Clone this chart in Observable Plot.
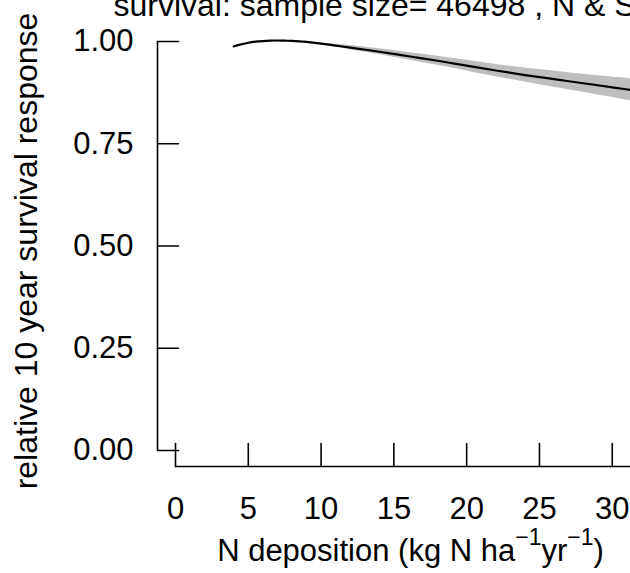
<!DOCTYPE html>
<html><head><meta charset="utf-8">
<script src="https://cdn.jsdelivr.net/npm/d3@7"></script>
<script src="https://cdn.jsdelivr.net/npm/@observablehq/plot@0.6"></script>
<style>
html,body{margin:0;padding:0;background:#fff;overflow:hidden;}
#chart{width:630px;height:573px;overflow:hidden;position:relative;}
</style></head><body><div id="chart"></div>
<script>
const titleText = "survival: sample size= 46498 , N & S";
const yLabel = "relative 10 year survival response";
const xLabelParts = ["N deposition (kg N ha", "\u22121", "yr", "\u22121", ")"];

// fitted response curve
const curveX = [4, 4.5, 5, 5.5, 6, 6.5, 7, 7.5, 8, 9, 10, 11, 12, 14, 16, 18, 20, 22, 24, 26, 28, 30, 32];
const curveY = [0.988, 0.993, 0.997, 0.9995, 1.001, 1.002, 1.0025, 1.002, 1.0015, 0.999, 0.995, 0.990, 0.985, 0.975, 0.964, 0.953, 0.941, 0.929, 0.918, 0.908, 0.898, 0.888, 0.878];

// confidence band
const bandX = [9, 10, 11, 12, 14, 16, 18, 20, 22, 24, 26, 28, 30, 32];
const bandLower = [0.999, 0.994, 0.987, 0.980, 0.968, 0.955, 0.942, 0.928, 0.914, 0.901, 0.888, 0.876, 0.863, 0.850];
const bandUpper = [0.999, 0.996, 0.993, 0.990, 0.982, 0.973, 0.964, 0.954, 0.944, 0.935, 0.928, 0.920, 0.913, 0.906];

const xTicks = [0, 5, 10, 15, 20, 25, 30, 35];
const yTicks = [0, 0.25, 0.5, 0.75, 1];

const curve = curveX.map((x, i) => ({x, y: curveY[i]}));
const band = bandX.map((x, i) => ({x, lo: bandLower[i], hi: bandUpper[i]}));

const tickShape = {draw(c, l) { c.moveTo(0, 0); c.lineTo(0, -l); }};
const font = "'Liberation Sans', Arial, Helvetica, sans-serif";

const chart = Plot.plot({
  width: 630, height: 573,
  marginTop: 41, marginBottom: 123, marginLeft: 175, marginRight: 0,
  x: {domain: [0, 30], range: [175, 611.75]},
  y: {domain: [0, 1]},
  style: {fontFamily: font, overflow: "hidden", background: "white", color: "black"},
  marks: [
    Plot.areaY(band, {x: "x", y1: "lo", y2: "hi", fill: "#bebebe", curve: "catmull-rom"}),
    Plot.line(curve, {x: "x", y: "y", stroke: "black", strokeWidth: 2.2, curve: "catmull-rom"}),
    Plot.ruleX([0], {y1: yTicks[0], y2: yTicks[yTicks.length - 1], dx: -18, stroke: "black", strokeWidth: 1.6}),
    Plot.ruleY([0], {x1: xTicks[0], x2: xTicks[xTicks.length - 1], dy: 16, stroke: "black", strokeWidth: 1.6}),
    Plot.vector(yTicks, {y: d => d, frameAnchor: "left", dx: -18, rotate: 90, length: 21, anchor: "start", shape: tickShape, stroke: "black", strokeWidth: 1.6}),
    Plot.vector(xTicks, {x: d => d, frameAnchor: "bottom", dy: 16, length: 23, anchor: "start", shape: tickShape, stroke: "black", strokeWidth: 1.6}),
    Plot.axisY({ticks: yTicks, tickSize: 0, tickPadding: 42, tickFormat: d3.format(".2f"), fontSize: 31, label: null}),
    Plot.axisX({ticks: xTicks, tickSize: 0, tickPadding: 46, fontSize: 31, label: null}),
    Plot.text([yLabel], {frameAnchor: "left", rotate: -90, dx: -148.6, dy: 5, textAnchor: "middle", lineAnchor: "middle", fontSize: 32}),
    Plot.text([xLabelParts.join("")], {frameAnchor: "bottom-left", dx: 235, dy: 88, lineAnchor: "top", textAnchor: "middle", fontSize: 31}),
    Plot.text([titleText], {frameAnchor: "top-left", dx: -62, dy: -48, lineAnchor: "top", textAnchor: "start", fontSize: 32})
  ]
});
document.getElementById("chart").appendChild(chart);

// rebuild x label with superscripts
const t = d3.select(chart).selectAll("text").filter(function() { return this.textContent === xLabelParts.join(""); });
t.text(null);
t.append("tspan").text(xLabelParts[0]);
t.append("tspan").attr("font-size", 23).attr("dy", -16).text(xLabelParts[1]);
t.append("tspan").attr("dy", 16).text(xLabelParts[2]);
t.append("tspan").attr("font-size", 23).attr("dy", -16).text(xLabelParts[3]);
t.append("tspan").attr("dy", 16).text(xLabelParts[4]);
</script></body></html>
